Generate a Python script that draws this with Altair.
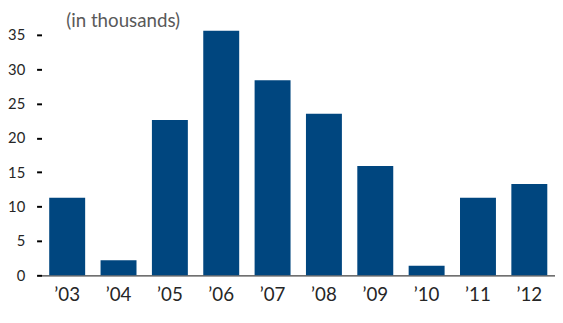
import altair as alt
import pandas as pd

years = ["’03", "’04", "’05", "’06", "’07", "’08", "’09", "’10", "’11", "’12"]
values = [11.3, 2.2, 22.6, 35.6, 28.4, 23.5, 15.9, 1.4, 11.3, 13.3]
y_ticks = [0, 5, 10, 15, 20, 25, 30, 35]

df = pd.DataFrame({"year": years, "value": values})

FONT = "Lato"

chart = (
    alt.Chart(df)
    .mark_bar(color="#00467F")
    .encode(
        x=alt.X(
            "year:N",
            sort=years,
            title=None,
            scale=alt.Scale(paddingInner=0.3, paddingOuter=0.15),
            axis=alt.Axis(
                labelAngle=0,
                labelFont=FONT,
                labelFontSize=19,
                labelColor="#262626",
                labelPadding=11,
                ticks=False,
                domainColor="#404040",
                domainWidth=1.2,
                grid=False,
            ),
        ),
        y=alt.Y(
            "value:Q",
            title=None,
            scale=alt.Scale(domain=[0, 36], nice=False),
            axis=alt.Axis(
                values=y_ticks,
                domain=False,
                grid=False,
                tickSize=5,
                tickWidth=2,
                tickColor="#000000",
                labelFont=FONT,
                labelFontSize=15,
                labelColor="#262626",
                labelPadding=12,
            ),
        ),
    )
    .properties(
        width=521,
        height=251,
        autosize=alt.AutoSizeParams(type="none"),
        padding={"left": 34, "top": 18, "right": 0, "bottom": 38},
        title=alt.TitleParams(
            "(in thousands)",
            anchor="start",
            frame="group",
            font=FONT,
            fontSize=19,
            fontWeight="normal",
            color="#595959",
            offset=-3,
            dx=25,
        ),
    )
    .configure_view(stroke=None)
)

chart.save("out.html", embed_options={"renderer": "svg", "actions": False})
